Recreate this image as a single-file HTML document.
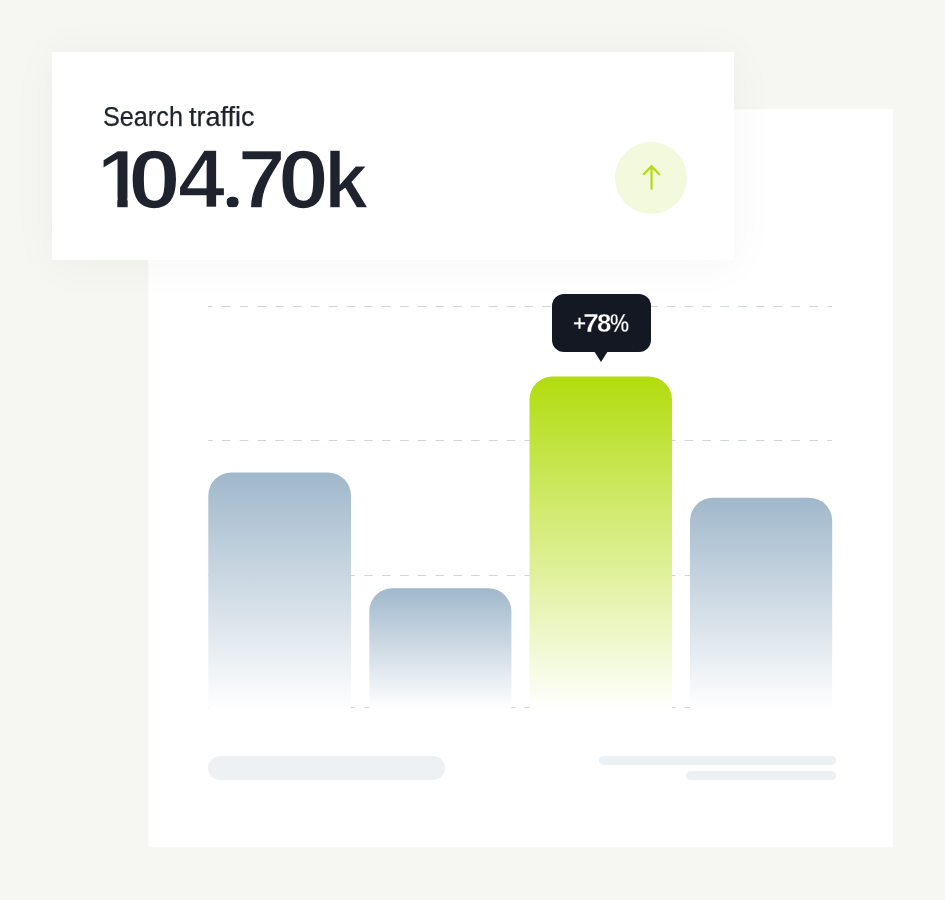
<!DOCTYPE html>
<html lang="en">
<head>
<meta charset="utf-8">
<title>Search traffic</title>
<style>
  html, body { margin: 0; padding: 0; }
  body {
    width: 945px; height: 900px; overflow: hidden; position: relative;
    background: #f6f7f2;
    font-family: "Liberation Sans", sans-serif;
  }
  .chart { position: absolute; left: 0; top: 0; width: 945px; height: 900px; }
  .stat {
    position: absolute; left: 52px; top: 52px; width: 682px; height: 208px;
    background: #ffffff;
    box-shadow: 0 3px 44px rgba(30, 35, 20, 0.045);
  }
  .label {
    position: absolute; left: 0; top: 100px; width: 400px; height: 34px;
    font-size: 27px; line-height: 34px; color: #1f232e;
    -webkit-text-stroke: 0.25px #1f232e;
    white-space: nowrap;
  }
  .label span { position: absolute; top: 0; display: block; transform-origin: 0 50%; }
  .value {
    position: absolute; left: 0; top: 132.3px; width: 400px; height: 94px;
    font-size: 84px; line-height: 94px; font-weight: 700; color: #1f232e;
    -webkit-text-stroke: 1.5px #ffffff;
    white-space: nowrap;
  }
  .value span, .tip span {
    position: absolute; top: 0; display: block; transform-origin: 0 50%;
  }
  .value .one {
    clip-path: polygon(0 0, 100% 0, 100% 65.5px, 30.5px 65.5px, 30.5px 100%, 20.2px 100%, 20.2px 65.5px, 0 65.5px);
  }
  .value .dot { clip-path: ellipse(5.35px 5.7px at 11.63px 69.85px); }
  .value .kk { transform-origin: 0 76.1px; }
  .tip span { top: -0.1px; }
  .tip .plus { transform-origin: 0 29.4px; }
  .badge {
    position: absolute; left: 615px; top: 142px; width: 72px; height: 72px;
    border-radius: 50%; background: #f2f9dc;
  }
  .badge svg { position: absolute; left: 0; top: 0; }
  .tip {
    position: absolute; left: 552px; top: 294px; width: 99px; height: 58px;
    border-radius: 12px; background: #141822; color: #ffffff;
    font-size: 26.1px; font-weight: 700; line-height: 58px;
    -webkit-text-stroke: 0.35px #141822;
    white-space: nowrap;
  }
  .tip:after {
    content: ""; position: absolute; left: 42px; top: 57px;
    border-left: 7.5px solid transparent; border-right: 7.5px solid transparent;
    border-top: 11.5px solid #141822;
  }
  .sk { position: absolute; background: #eef1f4; border-radius: 12px; }
</style>
</head>
<body>

  <svg class="chart" width="945" height="900" viewBox="0 0 945 900">
    <defs>
      <linearGradient id="gb" x1="0" y1="0" x2="0" y2="1">
        <stop offset="0" stop-color="#a0b8cb"/>
        <stop offset="1" stop-color="#ffffff"/>
      </linearGradient>
      <linearGradient id="gg" x1="0" y1="0" x2="0" y2="1">
        <stop offset="0" stop-color="#b2dc0e"/>
        <stop offset="1" stop-color="#ffffff"/>
      </linearGradient>
    </defs>
    <rect x="148.3" y="109.3" width="744.8" height="738.1" fill="#ffffff"/>
    <g stroke="#cdd7da" stroke-width="1" stroke-dasharray="8.6 9.2" stroke-dashoffset="3.9" fill="none">
      <line x1="208" y1="306.5" x2="832" y2="306.5"/>
      <line x1="208" y1="440.5" x2="832" y2="440.5"/>
      <line x1="208" y1="575.5" x2="832" y2="575.5"/>
      <line x1="208" y1="707.5" x2="832" y2="707.5"/>
    </g>
    <path fill="url(#gb)" d="M208.3 709 V495.6 a23 23 0 0 1 23 -23 H328 a23 23 0 0 1 23 23 V709 Z"/>
    <path fill="url(#gb)" d="M369.3 709 V611.3 a23 23 0 0 1 23 -23 H488.4 a23 23 0 0 1 23 23 V709 Z"/>
    <path fill="url(#gg)" d="M529.5 709 V399.6 a23 23 0 0 1 23 -23 H649 a23 23 0 0 1 23 23 V709 Z"/>
    <path fill="url(#gb)" d="M690 709 V520.7 a23 23 0 0 1 23 -23 H809.2 a23 23 0 0 1 23 23 V709 Z"/>
  </svg>

  <div class="sk" style="left:208px; top:756px; width:237px; height:23.5px;"></div>
  <div class="sk" style="left:598.5px; top:756px; width:237px; height:8.5px;"></div>
  <div class="sk" style="left:685.5px; top:771.3px; width:150px; height:8.5px;"></div>

  <div class="tip"><span class="plus" style="left:20.81px;transform:scale(0.856)">+</span><span style="left:30.77px;transform:scaleX(1.101)">7</span><span style="left:45.21px;transform:scaleX(0.989)">8</span><span style="left:58.22px;transform:scaleX(0.823)">%</span></div>

  <div class="stat"></div>
  <div class="label"><span style="left:102.95px;transform:scaleX(0.934)">Search</span> <span style="left:188.6px;transform:scaleX(0.999)">traffic</span></div>
  <div class="value"><span class="one" style="left:97.38px;transform:scaleX(1.005)">1</span><span style="left:128.2px;transform:scaleX(1.129)">0</span><span style="left:177.66px;transform:scaleX(1.009)">4</span><span class="dot" style="left:219.36px;transform:scaleX(1.169)">.</span><span style="left:237.67px;transform:scaleX(1.015)">7</span><span style="left:278.47px;transform:scaleX(1.087)">0</span><span class="kk" style="left:323.54px;transform:scale(0.946,0.95)">k</span></div>
  <div class="badge">
    <svg width="72" height="72" viewBox="0 0 72 72">
      <g fill="none" stroke="#b3d916" stroke-width="2.2" stroke-linecap="round" stroke-linejoin="round">
        <path d="M36.5 46.8 V24.2"/>
        <path d="M28.7 32.2 L36.5 24.2 L44.3 32.2"/>
      </g>
    </svg>
  </div>
</body>
</html>
